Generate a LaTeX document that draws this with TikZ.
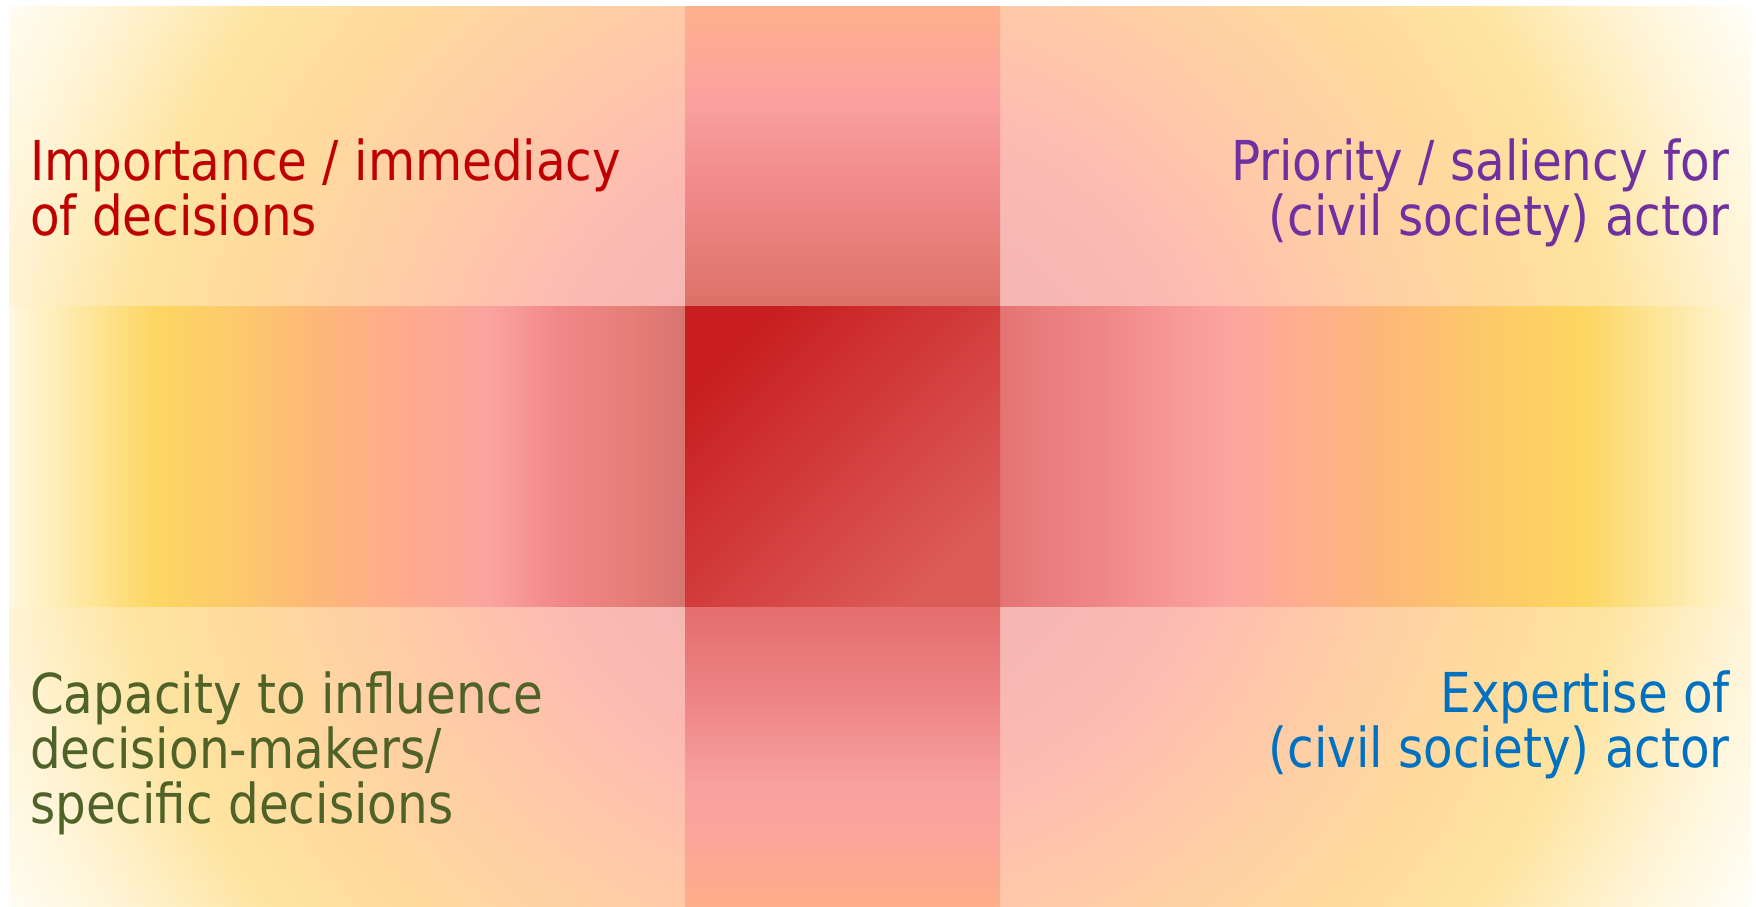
\documentclass[tikz,border=0pt]{standalone}
\usepackage{fontspec}
\setmainfont{DejaVu Sans}[FakeStretch=0.88]
\definecolor{cred}{HTML}{C00000}
\definecolor{cpurple}{HTML}{7030A0}
\definecolor{cgreen}{HTML}{4F6228}
\definecolor{cblue}{HTML}{0070C0}
% horizontal band stops
\definecolor{h01}{HTML}{FFF8E0}
\definecolor{h02}{HTML}{FEEDB4}
\definecolor{h03}{HTML}{FDD662}
\definecolor{h04}{HTML}{FDC96C}
\definecolor{h05}{HTML}{FDB877}
\definecolor{h06}{HTML}{FFAB8C}
\definecolor{h07}{HTML}{FBA3A0}
\definecolor{h08}{HTML}{F18888}
\definecolor{h09}{HTML}{E47C76}
\definecolor{h10}{HTML}{D87570}
\definecolor{h11}{HTML}{E57474}
\definecolor{h12}{HTML}{F08888}
\definecolor{h13}{HTML}{FCA5A0}
\definecolor{h14}{HTML}{FFAE8E}
\definecolor{h15}{HTML}{FDB877}
\definecolor{h16}{HTML}{FDC86A}
\definecolor{h17}{HTML}{FDD660}
\definecolor{h18}{HTML}{FDEAAA}
\definecolor{h19}{HTML}{FFF8DE}
\pgfdeclarehorizontalshading{hband}{100bp}{%
color(0bp)=(h01); color(25bp)=(h01); color(26.46bp)=(h02); color(29.22bp)=(h03);
color(31.63bp)=(h04); color(33.70bp)=(h05); color(36.22bp)=(h06); color(38.83bp)=(h07);
color(40.76bp)=(h08); color(43.11bp)=(h09); color(44.40bp)=(h10); color(53.44bp)=(h11);
color(56.43bp)=(h12); color(59.99bp)=(h13); color(62.06bp)=(h14); color(64.55bp)=(h15);
color(67.22bp)=(h16); color(70.15bp)=(h17); color(72.96bp)=(h18); color(75bp)=(h19);
color(100bp)=(h19)}
% vertical band stops (bottom to top)
\definecolor{v01}{HTML}{FEAE88}
\definecolor{v02}{HTML}{FCA59A}
\definecolor{v03}{HTML}{F7A0A0}
\definecolor{v04}{HTML}{EE8585}
\definecolor{v05}{HTML}{E87676}
\definecolor{v06}{HTML}{E56E6E}
\definecolor{v07}{HTML}{DC7068}
\definecolor{v08}{HTML}{E67E78}
\definecolor{v09}{HTML}{F28C8C}
\definecolor{v10}{HTML}{FBA0A0}
\definecolor{v11}{HTML}{FDA898}
\definecolor{v12}{HTML}{FDB08C}
\pgfdeclareverticalshading{vband}{100bp}{%
color(0bp)=(v01); color(25bp)=(v01); color(28.67bp)=(v02); color(31.78bp)=(v03);
color(36.44bp)=(v04); color(39.78bp)=(v05); color(41.67bp)=(v06); color(58.33bp)=(v07);
color(61.44bp)=(v08); color(65.33bp)=(v09); color(69.78bp)=(v10); color(72bp)=(v11);
color(75bp)=(v12); color(100bp)=(v12)}
% corner radial stops
\definecolor{r01}{HTML}{F2B2AE}
\definecolor{r02}{HTML}{F6B6B2}
\definecolor{r03}{HTML}{FDBAB3}
\definecolor{r04}{HTML}{FFCAA8}
\definecolor{r05}{HTML}{FFD99E}
\definecolor{r06}{HTML}{FEE4A0}
\definecolor{r07}{HTML}{FFF4D6}
\definecolor{r08}{HTML}{FFFCF2}
\definecolor{r09}{HTML}{FFFFFF}
\pgfdeclareradialshading{cornerrad}{\pgfpointorigin}{%
color(0bp)=(r01); color(5.95bp)=(r02); color(8.5bp)=(r03); color(12bp)=(r04);
color(15.75bp)=(r05); color(18.8bp)=(r06); color(22bp)=(r07); color(24.3bp)=(r08);
color(25bp)=(r09); color(50bp)=(r09)}
\tikzset{
  lbl/.style={inner sep=0pt, font=\fontsize{55}{55}\selectfont},
}
\begin{document}
\begin{tikzpicture}[x=1pt,y=-1pt]
\useasboundingbox (0,0) rectangle (1756,906);
\fill[white] (0,0) rectangle (1756,906);
% corner areas: radial gradient
\begin{scope}
\clip (9,6) rectangle (1751,906);
\shade[shading=cornerrad] (870,456) circle (1000);
\end{scope}
% horizontal band
\shade[shading=hband] (9,306) rectangle (1751,606);
% vertical band
\shade[shading=vband] (685,6) rectangle (1000,906);
% center square
\shade[top color={rgb,255:red,200;green,30;blue,32}, bottom color={rgb,255:red,220;green,92;blue,88}, shading angle=45] (685,306) rectangle (1000,606);
% labels (base anchor = baseline of the last line)
\node[lbl, anchor=base west, align=left, text=cred] (tl) at (30,235) {Importance / immediacy\\of decisions};
\node[lbl, anchor=base east, align=right, text=cpurple] (tr) at (1730,235) {Priority / saliency for\\(civil society) actor};
\node[lbl, anchor=base west, align=left, text=cgreen] (bl) at (30,823) {Capacity to influence\\decision-makers/\\specific decisions};
\node[lbl, anchor=base east, align=right, text=cblue] (br) at (1730,767) {Expertise of\\(civil society) actor};
\end{tikzpicture}
\end{document}
